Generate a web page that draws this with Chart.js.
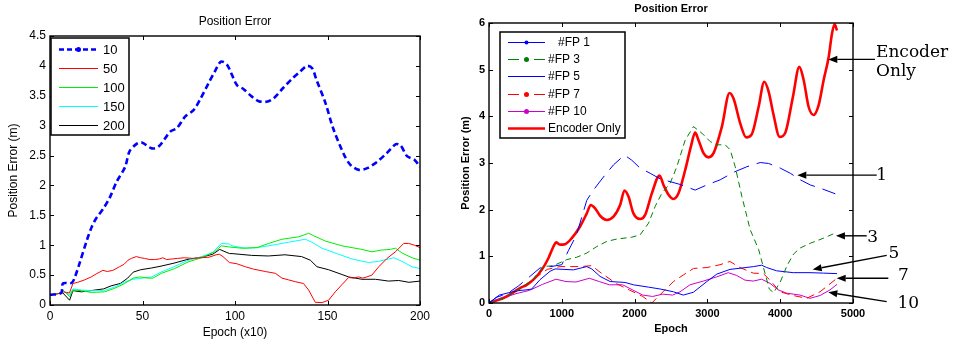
<!DOCTYPE html>
<html><head><meta charset="utf-8">
<script src="https://cdn.jsdelivr.net/npm/chart.js@4/dist/chart.umd.min.js"></script>
<style>
html,body{margin:0;padding:0;background:#fff;width:954px;height:342px;overflow:hidden}
#c1{position:absolute;left:0;top:0}
#c2{position:absolute;left:440px;top:0}
</style></head><body>
<canvas id="c1" width="440" height="342"></canvas>
<canvas id="c2" width="514" height="342"></canvas>
<script>
// ---------------- Left chart data (Epoch x10) ----------------
const leftLabels = ['10', '50', '100', '150', '200'];
const l10X = [0,6,7,11.7,13.5,16,20,22.6,25,29,32.5,36,40.6,43,47,49.6,55,58.7,65,68.6,73,77.6,81,85.7,89,92.4,95.7,101,104.7,109,112.8,117,121,126,131,135,139,141.7,144,149,153,159,162.5,167,171.5,177,182,187,189.5,193,197,200];
const l10Y = [0.17,0.2,0.36,0.37,0.47,0.7,1.09,1.31,1.45,1.62,1.81,2.06,2.31,2.57,2.7,2.72,2.62,2.65,2.9,2.96,3.15,3.26,3.43,3.71,3.9,4.07,4.02,3.68,3.61,3.49,3.41,3.4,3.46,3.63,3.79,3.9,4.0,3.96,3.77,3.37,2.96,2.51,2.34,2.26,2.29,2.4,2.54,2.69,2.67,2.49,2.43,2.31];
const l50X = [0,3,6,7,9,10.5,12.4,15,18.7,22.3,25,28.6,31,34,37.6,40,42.2,44,46.7,49,51,54,56.5,59,61,63,66,69,72.8,77,81.7,86,89.8,91.5,93.5,97,101,105.6,110,116.4,121.8,125.4,129,132.6,137,139.8,143.4,147,150.6,154.2,157.8,161.4,164,166.8,169,171.3,174,177.7,182.2,186.7,191.2,193.9,197,200];
const l50Y = [0.17,0.18,0.2,0.22,0.21,0.2,0.36,0.38,0.42,0.47,0.52,0.58,0.56,0.58,0.64,0.68,0.75,0.78,0.81,0.79,0.78,0.76,0.76,0.77,0.79,0.76,0.77,0.78,0.79,0.78,0.79,0.8,0.84,0.85,0.81,0.71,0.69,0.64,0.6,0.56,0.53,0.45,0.42,0.39,0.36,0.25,0.045,0.04,0.08,0.22,0.34,0.46,0.45,0.47,0.45,0.47,0.5,0.64,0.78,0.89,1.03,1.03,1.0,0.96];
const l100X = [0,6,7,10.6,12.4,16.9,22.3,29.5,35,40.4,44.9,48.5,53,55.7,60.2,67.4,74.6,81.8,89,92.6,97,103.8,111.9,118.2,125.4,134.4,139.8,142.5,148.8,157.8,168.6,174,179.4,183.9,186.7,190.3,195.7,200];
const l100Y = [0.17,0.2,0.25,0.14,0.25,0.24,0.21,0.22,0.28,0.36,0.45,0.47,0.45,0.45,0.53,0.61,0.72,0.79,0.89,0.99,0.97,0.95,0.96,1.03,1.1,1.14,1.2,1.16,1.07,0.99,0.93,0.89,0.92,0.93,0.95,0.87,0.79,0.75];
const l150X = [0,6,7,10.6,12.4,17,22,29,35,40,44.9,50,55,60,67,74,82,88,92.6,97,98.4,105.6,112,120,129,138,141.6,147,156,163.2,172.2,177.6,183,185.8,190.3,195.7,200];
const l150Y = [0.17,0.2,0.24,0.17,0.27,0.25,0.24,0.24,0.3,0.38,0.43,0.45,0.47,0.55,0.64,0.74,0.81,0.88,1.03,1.02,0.99,0.95,0.96,1.0,1.05,1.1,1.05,0.95,0.85,0.77,0.71,0.73,0.77,0.79,0.73,0.64,0.61];
const l200X = [0,6,7,10.6,12.4,17,22,29,33,38,42,45,49,55,60,67,74,82,88,91.7,97,98.4,109,118,127,136,140.7,144.3,150.6,157.8,161.4,168.6,176,183,188.5,194,200];
const l200Y = [0.17,0.2,0.2,0.08,0.24,0.22,0.24,0.27,0.32,0.36,0.45,0.55,0.59,0.62,0.65,0.7,0.76,0.8,0.85,0.93,0.86,0.86,0.83,0.82,0.84,0.81,0.75,0.64,0.59,0.51,0.47,0.43,0.43,0.40,0.41,0.38,0.40];

// ---------------- Right chart data (Epoch) ----------------
const rightLabels = ['   #FP 1', '#FP 3', '#FP 5', '#FP 7', '#FP 10', 'Encoder Only'];
const r1X = [0,100,250,400,555,700,850,1000,1090,1200,1343,1434,1572,1710,1861,1961,2076,2214,2351,2489,2626,2832,2993,3176,3359,3542,3726,3841,4001,4139,4276,4413,4551,4757];
const r1Y = [0,0.12,0.2,0.36,0.56,0.75,0.78,0.82,1.12,1.45,2.2,2.42,2.7,2.96,3.17,3.06,2.89,2.78,2.66,2.6,2.54,2.42,2.53,2.64,2.8,2.92,3.01,2.99,2.89,2.78,2.64,2.53,2.46,2.34];
const r3X = [0,200,400,600,747,885,1068,1205,1343,1480,1618,1755,1961,2076,2191,2283,2374,2489,2580,2695,2809,2924,3038,3130,3245,3314,3382,3474,3588,3703,3772,3850,3909,4001,4093,4184,4276,4413,4597,4757];
const r3Y = [0,0.1,0.28,0.5,0.78,0.8,0.93,0.98,1.07,1.21,1.32,1.37,1.41,1.46,1.71,2.07,2.35,2.57,2.92,3.49,3.78,3.64,3.46,3.39,3.39,3.28,2.92,2.28,1.57,1.15,0.75,0.3,0.22,0.45,0.8,1.05,1.18,1.28,1.39,1.5];
const r5X = [0,50,142,325,426,508,587,701,839,908,1160,1343,1411,1526,1664,1870,1984,2191,2351,2534,2669,2807,2993,3130,3310,3474,3634,3746,3814,3951,4180,4409,4597,4780];
const r5Y = [0,0.06,0.17,0.24,0.27,0.28,0.3,0.5,0.68,0.73,0.71,0.78,0.73,0.57,0.46,0.44,0.39,0.34,0.3,0.24,0.17,0.23,0.46,0.62,0.72,0.75,0.78,0.81,0.76,0.69,0.65,0.65,0.64,0.63];
const r7X = [0,200,400,600,800,976,1251,1411,1526,1744,1927,2111,2237,2351,2534,2669,2809,2993,3173,3310,3447,3630,3768,3860,3997,4180,4364,4547,4780];
const r7Y = [0,0.1,0.28,0.5,0.72,0.78,0.78,0.8,0.66,0.42,0.28,0.14,0.0,0.18,0.46,0.6,0.74,0.76,0.82,0.89,0.76,0.64,0.63,0.49,0.24,0.16,0.1,0.24,0.53];
const r10X = [0,96,371,554,737,920,1058,1195,1378,1515,1653,1836,1973,2111,2248,2386,2523,2624,2761,2944,3127,3287,3402,3516,3630,3745,3860,3974,4089,4272,4409,4547,4684,4780];
const r10Y = [0,0.06,0.2,0.27,0.4,0.51,0.46,0.45,0.53,0.46,0.39,0.39,0.28,0.17,0.14,0.19,0.17,0.24,0.39,0.47,0.56,0.65,0.59,0.49,0.47,0.51,0.42,0.28,0.21,0.17,0.1,0.16,0.28,0.4];
const encX = [0,243,426,518,610,724,816,885,921,976,1045,1137,1251,1343,1398,1457,1526,1618,1710,1801,1861,1916,1984,2076,2145,2237,2342,2397,2466,2534,2603,2695,2773,2832,2878,2947,3016,3084,3199,3304,3359,3451,3533,3611,3703,3781,3841,3909,3992,4070,4175,4262,4322,4391,4459,4528,4597,4666,4711,4748,4780];
const encY = [0,0.14,0.32,0.39,0.5,0.71,0.96,1.21,1.3,1.25,1.26,1.39,1.64,1.92,2.1,2.03,1.87,1.78,1.85,2.1,2.41,2.28,1.92,1.80,1.89,2.35,2.73,2.53,2.32,2.23,2.35,2.85,3.35,3.65,3.49,3.21,3.12,3.21,3.78,4.5,4.38,3.85,3.55,3.62,4.2,4.74,4.53,4.03,3.56,3.65,4.42,5.06,4.78,4.2,4.03,4.24,4.78,5.27,5.77,5.97,5.84];

// annotation labels (right chart)
const annTexts = ['Encoder', 'Only', '1', '3', '5', '7', '10'];

// ---------------- helpers ----------------
const SANS = '"Liberation Sans", Arial, Helvetica, sans-serif';
const SERIF = '"DejaVu Serif", "Liberation Serif", serif';
function pts(xs, ys) { return xs.map((x, i) => ({ x: x, y: ys[i] })); }

function arrow(ctx, x1, y1, x2, y2) {
  const ang = Math.atan2(y2 - y1, x2 - x1), L = 9, W = 3.6;
  const c = Math.cos(ang), s = Math.sin(ang);
  ctx.beginPath(); ctx.moveTo(x1, y1); ctx.lineTo(x2 - L * c, y2 - L * s); ctx.stroke();
  ctx.beginPath(); ctx.moveTo(x2, y2);
  ctx.lineTo(x2 - L * c + W * s, y2 - L * s - W * c);
  ctx.lineTo(x2 - L * c - W * s, y2 - L * s + W * c);
  ctx.closePath(); ctx.fill();
}

const matlabPlugin = {
  id: 'matlab',
  afterDraw(chart, args, o) {
    const ctx = chart.ctx, a = chart.chartArea, xs = chart.scales.x, ys = chart.scales.y;
    ctx.save();
    ctx.strokeStyle = '#000'; ctx.lineWidth = 1;
    ctx.beginPath();
    xs.ticks.forEach(t => {
      const p = Math.round(xs.getPixelForValue(t.value)) + 0.5;
      ctx.moveTo(p, a.bottom); ctx.lineTo(p, a.bottom - o.tick);
      ctx.moveTo(p, a.top); ctx.lineTo(p, a.top + o.tick);
    });
    ys.ticks.forEach(t => {
      const p = Math.round(ys.getPixelForValue(t.value)) + 0.5;
      ctx.moveTo(a.left, p); ctx.lineTo(a.left + o.tick, p);
      ctx.moveTo(a.right, p); ctx.lineTo(a.right - o.tick, p);
    });
    ctx.stroke();
    ctx.lineWidth = 1.4;
    ctx.strokeRect(a.left, a.top, a.right - a.left, a.bottom - a.top);
    // title
    ctx.fillStyle = '#000'; ctx.font = o.titleFont; ctx.textAlign = 'center'; ctx.textBaseline = 'middle';
    ctx.fillText(o.title, (a.left + a.right) / 2, o.titleY);
    // legend
    const L = o.legend;
    ctx.fillStyle = '#fff'; ctx.fillRect(L.x, L.y, L.w, L.h);
    ctx.strokeStyle = '#000'; ctx.lineWidth = 1.5; ctx.strokeRect(L.x, L.y, L.w, L.h);
    chart.data.datasets.forEach((ds, i) => {
      const y = Math.round(L.y + L.first + i * L.step) + 0.5;
      ctx.save();
      ctx.strokeStyle = ds.borderColor; ctx.lineWidth = ds.borderWidth;
      ctx.setLineDash(ds.legendDash || []);
      ctx.beginPath(); ctx.moveTo(L.x + L.s0, y); ctx.lineTo(L.x + L.s1, y); ctx.stroke();
      ctx.setLineDash([]);
      if (ds.legendDot) {
        ctx.fillStyle = ds.borderColor; ctx.beginPath();
        ctx.arc(L.x + (L.s0 + L.s1) / 2, y, ds.legendDot, 0, Math.PI * 2); ctx.fill();
      }
      ctx.restore();
      ctx.fillStyle = '#000'; ctx.font = L.font; ctx.textAlign = 'left'; ctx.textBaseline = 'middle';
      ctx.fillText(ds.label, L.x + L.tx, y + 0.5);
    });
    // annotations
    if (o.ann) {
      ctx.fillStyle = '#000'; ctx.strokeStyle = '#000'; ctx.lineWidth = 1.4;
      o.ann.forEach(an => {
        if (an.tip) {
          arrow(ctx, xs.getPixelForValue(an.tail[0]), ys.getPixelForValue(an.tail[1]),
                     xs.getPixelForValue(an.tip[0]), ys.getPixelForValue(an.tip[1]));
        }
        ctx.font = o.annFont; ctx.textAlign = an.align; ctx.textBaseline = 'middle';
        ctx.fillText(an.text, xs.getPixelForValue(an.at[0]), ys.getPixelForValue(an.at[1]));
      });
    }
    ctx.restore();
  }
};

function line(label, xs, ys, color, width, dash, extra) {
  return Object.assign({
    label: label, data: pts(xs, ys), borderColor: color, backgroundColor: color,
    borderWidth: width, borderDash: dash || [], pointRadius: 0, fill: false, tension: 0
  }, extra || {});
}

function axisCommon(fontSpec) {
  return {
    type: 'linear',
    grid: { display: false, drawTicks: false },
    border: { display: false },
    ticks: { color: '#000', font: fontSpec, padding: 4, autoSkip: false, maxRotation: 0, callback: v => String(v) }
  };
}

// ---------------- Left chart ----------------
const lf = { family: SANS, size: 12 };
new Chart(document.getElementById('c1'), {
  type: 'line',
  data: {
    datasets: [
      line(leftLabels[0], l10X, l10Y, '#0000ff', 2.6, [6, 3.5], { tension: 0.3, legendDash: [5, 3], legendDot: 2.5 }),
      line(leftLabels[1], l50X, l50Y, '#ff0000', 1),
      line(leftLabels[2], l100X, l100Y, '#00ee00', 1),
      line(leftLabels[3], l150X, l150Y, '#00ffff', 1),
      line(leftLabels[4], l200X, l200Y, '#000000', 1)
    ]
  },
  options: {
    responsive: false, animation: false, devicePixelRatio: 1,
    layout: { padding: { left: 0, right: 20, top: 36, bottom: 0 } },
    plugins: {
      legend: { display: false }, tooltip: { enabled: false },
      matlab: {
        tick: 4, title: 'Position Error', titleFont: '12px ' + SANS, titleY: 22,
        legend: { x: 51, y: 38, w: 78, h: 97, first: 11, step: 19, s0: 8, s1: 47, tx: 52, font: '13px ' + SANS }
      }
    },
    scales: {
      x: Object.assign(axisCommon(lf), {
        min: 0, max: 200,
        title: { display: true, text: 'Epoch (x10)', color: '#000', font: lf, padding: { top: 0, bottom: 2 } },
        afterFit(s) { s.height = 37; }
      }),
      y: Object.assign(axisCommon(lf), {
        min: 0, max: 4.5,
        title: { display: true, text: 'Position Error (m)', color: '#000', font: lf, padding: { top: 6, bottom: 0 } },
        afterFit(s) { s.width = 50; }
      })
    }
  },
  plugins: [matlabPlugin]
});
// step sizes
Chart.getChart('c1').options.scales.x.ticks.stepSize = 50;
Chart.getChart('c1').options.scales.y.ticks.stepSize = 0.5;
Chart.getChart('c1').update();

// ---------------- Right chart ----------------
const rf = { family: SANS, size: 11, weight: 'bold' };
new Chart(document.getElementById('c2'), {
  type: 'line',
  data: {
    datasets: [
      line(rightLabels[0], r1X, r1Y, '#0000ff', 1, [16, 8], { legendDot: 2 }),
      line(rightLabels[1], r3X, r3Y, '#008000', 1, [6, 4], { legendDash: [11, 15], legendDot: 2.5 }),
      line(rightLabels[2], r5X, r5Y, '#0000ff', 1, []),
      line(rightLabels[3], r7X, r7Y, '#ff0000', 1, [8, 5], { legendDash: [11, 15], legendDot: 2.5 }),
      line(rightLabels[4], r10X, r10Y, '#cc00cc', 1, [], { legendDot: 2.5 }),
      line(rightLabels[5], encX, encY, '#ff0000', 2.6, [], { cubicInterpolationMode: 'monotone' })
    ]
  },
  options: {
    responsive: false, animation: false, devicePixelRatio: 1,
    layout: { padding: { left: 0, right: 101, top: 23, bottom: 0 } },
    plugins: {
      legend: { display: false }, tooltip: { enabled: false },
      matlab: {
        tick: 4, title: 'Position Error', titleFont: 'bold 11px ' + SANS, titleY: 8.5,
        legend: { x: 60, y: 32, w: 125, h: 106, first: 10, step: 17.2, s0: 8, s1: 45, tx: 48, font: '12px ' + SANS },
        annFont: '17px ' + SERIF,
        ann: [
          { text: annTexts[0], align: 'left', at: [5316, 5.36], tip: [4661, 5.22], tail: [5302, 5.22] },
          { text: annTexts[1], align: 'left', at: [5316, 4.95] },
          { text: annTexts[2], align: 'center', at: [5394, 2.74], tip: [4235, 2.74], tail: [5326, 2.74] },
          { text: annTexts[3], align: 'center', at: [5271, 1.41], tip: [4766, 1.44], tail: [5188, 1.44] },
          { text: annTexts[4], align: 'center', at: [5563, 1.05], tip: [4446, 0.72], tail: [5463, 1.02] },
          { text: annTexts[5], align: 'center', at: [5691, 0.58], tip: [4776, 0.53], tail: [5485, 0.53] },
          { text: annTexts[6], align: 'center', at: [5760, -0.02], tip: [4661, 0.23], tail: [5463, 0.03] }
        ]
      }
    },
    scales: {
      x: Object.assign(axisCommon(rf), {
        min: 0, max: 5000,
        title: { display: true, text: 'Epoch', color: '#000', font: rf, padding: { top: 0, bottom: 6 } },
        afterFit(s) { s.height = 39; }
      }),
      y: Object.assign(axisCommon(rf), {
        min: 0, max: 6,
        title: { display: true, text: 'Position Error (m)', color: '#000', font: rf, padding: { top: 19, bottom: 0 } },
        afterFit(s) { s.width = 49; }
      })
    }
  },
  plugins: [matlabPlugin]
});
Chart.getChart('c2').options.scales.x.ticks.stepSize = 1000;
Chart.getChart('c2').options.scales.y.ticks.stepSize = 1;
Chart.getChart('c2').update();
</script>
</body></html>
